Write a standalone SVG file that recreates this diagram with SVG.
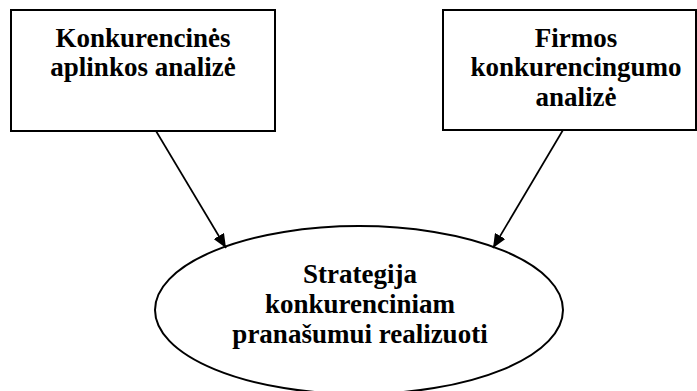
<svg xmlns="http://www.w3.org/2000/svg" width="697" height="391" viewBox="0 0 697 391">
  <style>
    .box { fill: #ffffff; stroke: #000000; stroke-width: 2; }
    .lbl { font-family: "Liberation Serif", "Times New Roman", serif; font-size: 27px; font-weight: bold; fill: #000000; text-anchor: middle; }
    .edge { stroke: #000000; stroke-width: 1.7; fill: none; marker-end: url(#head); }
  </style>
  <defs>
    <marker id="head" viewBox="0 0 14 12" refX="14" refY="6" markerWidth="14" markerHeight="12" markerUnits="userSpaceOnUse" orient="auto">
      <path d="M0,0 L14,6 L0,12 Z" fill="#000000"/>
    </marker>
  </defs>
  <rect width="697" height="391" fill="#ffffff"/>

  <g id="node-aplinka">
    <rect class="box" x="11" y="10" width="264" height="121"/>
    <text class="lbl" x="143" y="47">Konkurencinės</text>
    <text class="lbl" x="143" y="76">aplinkos analizė</text>
  </g>

  <g id="node-firma">
    <rect class="box" x="443" y="10" width="253" height="120"/>
    <text class="lbl" x="576" y="47">Firmos</text>
    <text class="lbl" x="576" y="76">konkurencingumo</text>
    <text class="lbl" x="576" y="106">analizė</text>
  </g>

  <g id="node-strategija">
    <ellipse class="box" cx="359" cy="310" rx="204" ry="84"/>
    <text class="lbl" x="360" y="283">Strategija</text>
    <text class="lbl" x="360" y="313">konkurenciniam</text>
    <text class="lbl" x="360" y="343">pranašumui realizuoti</text>
  </g>

  <g id="connectors">
    <line class="edge" x1="156" y1="131" x2="226" y2="248"/>
    <line class="edge" x1="563" y1="130" x2="493" y2="248"/>
  </g>
</svg>
